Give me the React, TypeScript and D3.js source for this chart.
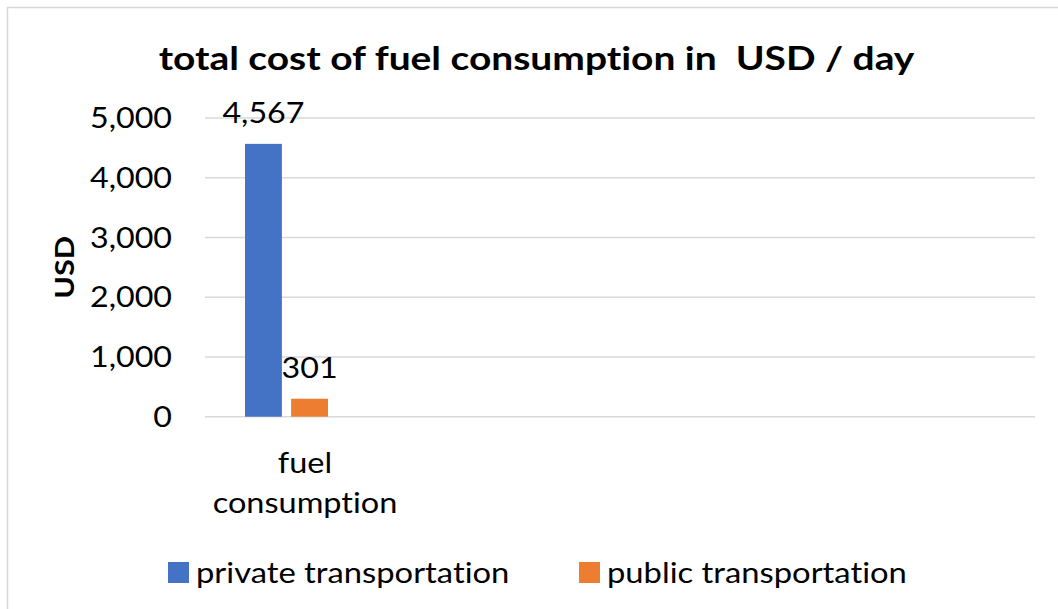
import React from "react";
import * as d3 from "d3";

const categories = ["fuel consumption", "", "", "", ""];
const seriesNames = ["private transportation", "public transportation"];
const privateValues: (number | null)[] = [4567, null, null, null, null];
const publicValues: (number | null)[] = [301, null, null, null, null];
const yTicks = [0, 1000, 2000, 3000, 4000, 5000];
const colors = ["#4472C4", "#ED7D31"];
const title = "total cost of fuel consumption in  USD / day";
const yTitle = "USD";

const W = 1058;
const H = 609;
const FONT = "Lato, 'Open Sans', sans-serif";

function SText(props: any) {
  const { x, y, sx = 1.15, rotate = 0, children, ...rest } = props;
  return (
    <text
      transform={`translate(${x},${y}) rotate(${rotate}) scale(${sx},1)`}
      style={{ fontVariantLigatures: "none", whiteSpace: "pre" }}
      fill="#000"
      {...rest}
    >
      {children}
    </text>
  );
}

export default function App() {
  const plot = { left: 205, right: 1035, top: 118, bottom: 416.7 };
  const y = d3.scaleLinear().domain([0, 5000]).range([plot.bottom, plot.top]);
  const x = d3.scaleBand<number>().domain(categories.map((_, i) => i)).range([plot.left, plot.right]).paddingInner(0).paddingOuter(0);
  const groupW = x.bandwidth() / 2;
  const inner = d3.scaleBand<number>().domain([0, 1]).range([0, groupW]).paddingInner(0.2);
  const fmt = d3.format(",");
  const series = [privateValues, publicValues];

  return (
    <svg width={W} height={H} style={{ position: "absolute", left: 0, top: 0, background: "#fff" }} fontFamily={FONT}>
      <rect x={7.5} y={7.5} width={W + 20} height={H + 20} fill="#fff" stroke="#d9d9d9" strokeWidth={1.5} />
      <SText x={536.5} y={70} sx={1.18} textAnchor="middle" fontSize={33} fontWeight="bold">{title}</SText>
      <SText x={74} y={(plot.top + plot.bottom) / 2} rotate={-90} sx={1.18} textAnchor="middle" fontSize={26} fontWeight="bold">{yTitle}</SText>
      {yTicks.map((t) => (
        <g key={t}>
          <line x1={plot.left} x2={plot.right} y1={y(t)} y2={y(t)} stroke="#d9d9d9" strokeWidth={1.5} />
          <SText x={172} y={y(t)} dy="0.36em" textAnchor="end" fontSize={28}>{fmt(t)}</SText>
        </g>
      ))}
      {series.map((vals, si) =>
        vals.map((v, ci) => {
          if (v == null) return null;
          const bx = (x(ci) as number) + x.bandwidth() / 4 + (inner(si) as number) - 1.5;
          const bw = inner.bandwidth();
          return (
            <g key={`${si}-${ci}`}>
              <rect x={bx} y={y(v)} width={bw} height={y(0) - y(v)} fill={colors[si]} />
              <SText x={bx + bw / 2} y={y(v) - 21} textAnchor="middle" fontSize={28}>{fmt(v)}</SText>
            </g>
          );
        })
      )}
      {categories.map((c, ci) => {
        if (!c) return null;
        const words = c.split(" ");
        const cx = (x(ci) as number) + x.bandwidth() / 2 + 17;
        return (
          <g key={ci}>
            {words.map((w, wi) => (
              <SText key={wi} x={cx} y={473 + wi * 40} sx={1.16} textAnchor="middle" fontSize={28}>{w}</SText>
            ))}
          </g>
        );
      })}
      {seriesNames.map((s, si) => {
        const lx = [168, 579][si];
        return (
          <g key={s}>
            <rect x={lx} y={562} width={21} height={21} fill={colors[si]} />
            <SText x={lx + 28} y={583} sx={1.17} fontSize={28}>{s}</SText>
          </g>
        );
      })}
    </svg>
  );
}
